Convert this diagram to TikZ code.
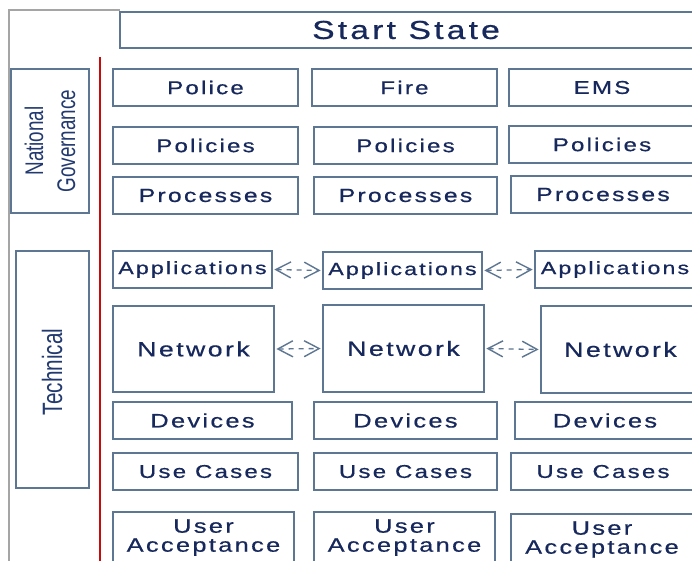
\documentclass[tikz,border=0pt]{standalone}
\usepackage{fontspec}
\usetikzlibrary{arrows.meta}
\newfontfamily\boxfont[FakeStretch=1.3,LetterSpace=12,FakeBold=0.6]{Liberation Sans}
\newfontfamily\narrowfont[FakeStretch=0.74]{Liberation Sans}
\definecolor{bordc}{RGB}{93,118,145}
\definecolor{txtc}{RGB}{22,40,92}
\definecolor{labc}{RGB}{35,58,112}
\definecolor{redc}{RGB}{200,10,10}
\definecolor{framec}{RGB}{165,165,165}
\tikzset{
  bx/.style={draw=bordc, line width=1.8pt, inner sep=0pt, text=txtc, align=center,
    font=\boxfont\fontsize{18.5}{19}\selectfont},
  fs/.style={font=\boxfont\fontsize{#1}{19}\selectfont},
  barb/.tip={Straight Barb[length=15pt,width=16pt,line width=1.4pt]},
  dar/.style={draw=bordc, line width=1.3pt, dash pattern=on 5pt off 5pt, shorten <=1.5pt, shorten >=1.5pt, barb-barb},
  sidelab/.style={rotate=90, text=labc, align=center, inner sep=0pt}
}
\begin{document}
\begin{tikzpicture}[x=1pt,y=-1pt]
\useasboundingbox (0,0) rectangle (692,560);
\fill[white] (0,0) rectangle (692,560);
% outer frame
\coordinate (fA) at (9,562);
\coordinate (fB) at (9,10);
\coordinate (fC) at (120,10);
\draw[framec, line width=1.5pt] (fA) -- (fB) -- (fC);
% red line
\coordinate (rA) at (100,57);
\coordinate (rB) at (100,562);
\draw[redc, line width=2pt] (rA) -- (rB);
% start state
\node[bx, minimum width=590pt, minimum height=36pt] (start) at (415,30) {};
\node[text=txtc, inner sep=0pt, fs=26] (starttext) at (406,30) {Start State};
% side labels
\node[draw=bordc, line width=1.8pt, minimum width=78pt, minimum height=144pt] (gov) at (50,141) {};
\node[sidelab, font=\narrowfont\fontsize{25.5}{32}\selectfont] (govtext) at (gov.center) {National\\Governance};
\node[draw=bordc, line width=1.8pt, minimum width=73pt, minimum height=237pt] (tech) at (52.5,369.5) {};
\node[sidelab, font=\narrowfont\fontsize{28}{32}\selectfont] (techtext) at (52,372) {Technical};
% column 1
\node[bx, minimum width=185pt, minimum height=37pt] (police) at (205.5,87.5) {Police};
\node[bx, minimum width=185pt, minimum height=37pt] (pol1) at (205.5,145.5) {Policies};
\node[bx, fs=19, minimum width=185pt, minimum height=37pt] (proc1) at (205.5,195.5) {Processes};
\node[bx, fs=17.8, minimum width=159pt, minimum height=37pt] (app1) at (192.5,269.5) {Applications};
\node[bx, fs=20.5, minimum width=161pt, minimum height=86pt] (net1) at (193.5,349) {Network};
\node[bx, fs=19.5, minimum width=179pt, minimum height=37pt] (dev1) at (202.5,420.5) {Devices};
\node[bx, minimum width=185pt, minimum height=37pt] (uc1) at (205.5,471.5) {Use Cases};
\node[bx, fs=19.5, minimum width=181pt, minimum height=51pt] (ua1) at (203.5,537.5) {User\\Acceptance};
% column 2
\node[bx, minimum width=185pt, minimum height=37pt] (fire) at (404.5,87.5) {Fire};
\node[bx, minimum width=183pt, minimum height=37pt] (pol2) at (405.5,145.5) {Policies};
\node[bx, fs=19, minimum width=183pt, minimum height=37pt] (proc2) at (405.5,195.5) {Processes};
\node[bx, fs=17.8, minimum width=159pt, minimum height=37pt] (app2) at (402.5,270.5) {Applications};
\node[bx, fs=20.5, minimum width=161pt, minimum height=87pt] (net2) at (403.5,348.5) {Network};
\node[bx, fs=19.5, minimum width=183pt, minimum height=37pt] (dev2) at (405.5,420.5) {Devices};
\node[bx, minimum width=183pt, minimum height=37pt] (uc2) at (405.5,471.5) {Use Cases};
\node[bx, fs=19.5, minimum width=181pt, minimum height=51pt] (ua2) at (404.5,537.5) {User\\Acceptance};
% column 3
\node[bx, minimum width=186pt, minimum height=37pt] (ems) at (602,87.5) {EMS};
\node[bx, minimum width=186pt, minimum height=37pt] (pol3) at (602,144.5) {Policies};
\node[bx, fs=19, minimum width=184pt, minimum height=37pt] (proc3) at (603,194.5) {Processes};
\node[bx, fs=17.8, minimum width=160pt, minimum height=37pt] (app3) at (615,269.5) {Applications};
\node[bx, fs=20.5, minimum width=159pt, minimum height=87pt] (net3) at (620.5,349.5) {Network};
\node[bx, fs=19.5, minimum width=180pt, minimum height=37pt] (dev3) at (605,420.5) {Devices};
\node[bx, minimum width=184pt, minimum height=37pt] (uc3) at (603,471.5) {Use Cases};
\node[bx, fs=19.5, minimum width=182pt, minimum height=51pt] (ua3) at (602,539.5) {User\\Acceptance};
% arrows
\draw[dar] (app1.east) -- (app2.west);
\draw[dar] (app2.east) -- (app3.west);
\draw[dar] (net1.east) -- (net2.west);
\draw[dar] (net2.east) -- (net3.west);
\end{tikzpicture}
\end{document}
